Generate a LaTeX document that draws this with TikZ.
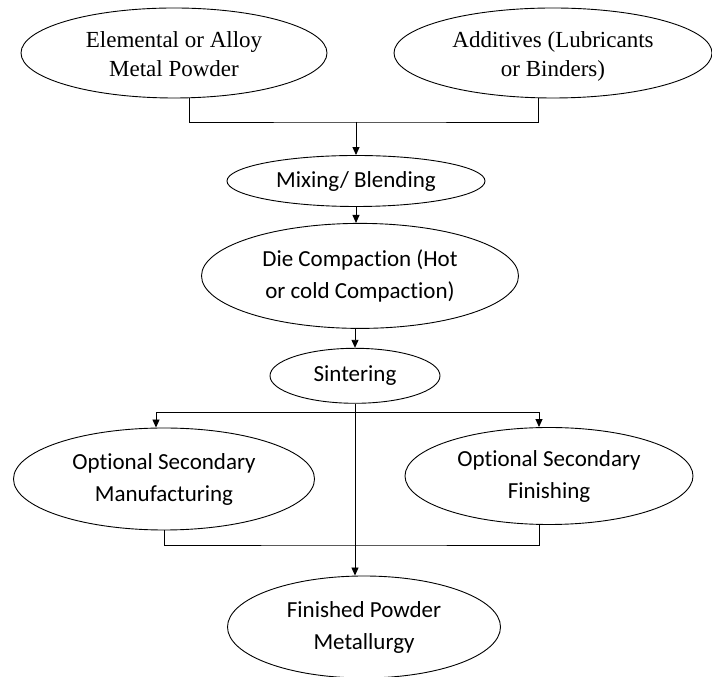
\documentclass[tikz,border=0pt]{standalone}
\usepackage{fontspec}
\setmainfont{Liberation Serif}
\newfontfamily\calibri[Ligatures=CommonOff]{Carlito}
\usepackage{tikz}
\usetikzlibrary{arrows.meta,positioning,shapes.geometric}
\tikzset{
  stage/.style={ellipse, draw=black, line width=0.9pt, align=center, inner sep=1pt, font=\calibri\fontsize{23}{32}\selectfont},
  source/.style={ellipse, draw=black, line width=0.9pt, align=center, inner sep=1pt, text height=53pt, text depth=6pt, font=\fontsize{23}{29}\selectfont},
  link/.style={line width=0.9pt, draw=black},
  arrow/.style={-{Triangle[length=8pt,width=7pt]}, line width=0.9pt, draw=black}
}
\begin{document}
\begin{tikzpicture}[x=1pt, y=1pt]
  \useasboundingbox (0,0) rectangle (712,677);
  \node[source, minimum width=306pt, minimum height=90pt] (elem) at (174,624) {Elemental or Alloy\\Metal Powder};
  \node[source, minimum width=318pt, minimum height=90pt] (add) at (553,624) {Additives (Lubricants\\or Binders)};
  \node[stage, minimum width=258pt, minimum height=51pt] (mix) at (356,496) {Mixing/ Blending};
  \node[stage, below=16pt of mix, xshift=4pt, minimum width=317pt, minimum height=105pt] (die) {Die Compaction (Hot\\or cold Compaction)};
  \node[stage, below=19pt of die, xshift=-5pt, minimum width=170pt, minimum height=55pt] (sint) {Sintering};
  \node[stage, minimum width=301pt, minimum height=102pt] (osm) at (164,198) {Optional Secondary\\Manufacturing};
  \node[stage, minimum width=288pt, minimum height=97pt] (osf) at (549,201) {Optional Secondary\\Finishing};
  \node[stage, minimum width=273pt, minimum height=102pt] (fin) at (364,50) {Finished Powder\\Metallurgy};
  \coordinate (join) at (356,555);
  \coordinate (split) at (355,265);
  \coordinate (merge) at (356,132);
  % feed lines into the mixer
  \draw[link] ([xshift=15pt]elem.south) |- (join) -| ([xshift=-15pt]add.south);
  \draw[arrow] (join) -- (mix);
  \draw[arrow] (mix) -- (mix.south |- die.north);
  \draw[arrow] (die.south -| sint.north) -- (sint);
  % optional branches
  \draw[arrow] (split) -| ([xshift=-8pt]osm.north);
  \draw[arrow] (split) -| ([xshift=-10pt]osf.north);
  \draw[arrow] (sint.south) -- (sint.south |- fin.north);
  \draw[link] (osm.south) |- (merge) -| ([xshift=-10pt]osf.south);
\end{tikzpicture}
\end{document}
